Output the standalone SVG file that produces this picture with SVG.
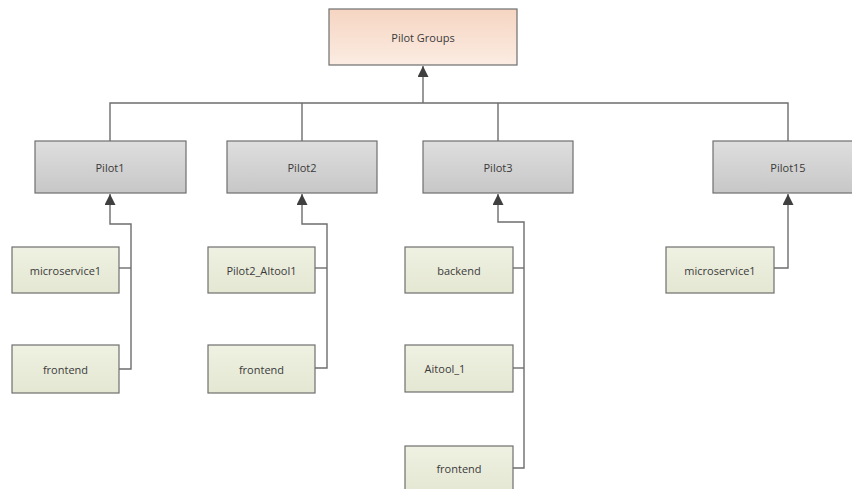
<svg xmlns="http://www.w3.org/2000/svg" width="852" height="489" viewBox="0 0 852 489">
<style>
.box{stroke:#6f6f6f;stroke-width:1.2}
.root{fill:url(#gPeach)}
.pilot{fill:url(#gGray)}
.leaf{fill:url(#gGreen)}
.lbl{font-family:"Open Sans","Noto Sans",sans-serif;font-size:11px;fill:#3a3a3a;text-anchor:middle;dominant-baseline:central}
.conn{fill:none;stroke:#6d6d6d;stroke-width:1.4}
</style>
<defs>
<linearGradient id="gPeach" x1="0" y1="0" x2="0" y2="1"><stop offset="0" stop-color="#f6d5c2"/><stop offset="1" stop-color="#fbece2"/></linearGradient>
<linearGradient id="gGray" x1="0" y1="0" x2="0" y2="1"><stop offset="0" stop-color="#dedede"/><stop offset="1" stop-color="#c7c7c7"/></linearGradient>
<linearGradient id="gGreen" x1="0" y1="0" x2="0" y2="1"><stop offset="0" stop-color="#eff1e2"/><stop offset="1" stop-color="#e4e7d2"/></linearGradient>
<marker id="arr" viewBox="0 0 10 10" refX="10" refY="5" markerWidth="11" markerHeight="11" markerUnits="userSpaceOnUse" orient="auto"><path d="M0,0 L10,5 L0,10 z" fill="#3f3f3f"/></marker>
</defs>
<rect width="852" height="489" fill="#ffffff"/>
<g id="connectors">
<path class="conn" d="M423,103 V66" marker-end="url(#arr)"/>
<path class="conn" d="M110,141 V103 H788 V141"/>
<path class="conn" d="M302,103 V141"/>
<path class="conn" d="M498,103 V141"/>
<path class="conn" d="M119,369 H131 V224 H110 V194" marker-end="url(#arr)"/>
<path class="conn" d="M119,268 H131"/>
<path class="conn" d="M315,368 H327 V224 H302 V194" marker-end="url(#arr)"/>
<path class="conn" d="M315,268 H327"/>
<path class="conn" d="M513,468 H524 V222 H498 V194" marker-end="url(#arr)"/>
<path class="conn" d="M513,268 H524"/>
<path class="conn" d="M513,368 H524"/>
<path class="conn" d="M774,268 H788 V194" marker-end="url(#arr)"/>
</g>
<g id="pilot-groups"><rect class="box root" x="329" y="9" width="188" height="56"/><text class="lbl" x="423" y="37">Pilot Groups</text></g>
<g id="pilot1"><rect class="box pilot" x="35" y="141" width="151" height="52"/><text class="lbl" x="110" y="167">Pilot1</text></g>
<g id="pilot2"><rect class="box pilot" x="227" y="141" width="150" height="52"/><text class="lbl" x="302" y="167">Pilot2</text></g>
<g id="pilot3"><rect class="box pilot" x="423" y="141" width="150" height="52"/><text class="lbl" x="498" y="167">Pilot3</text></g>
<g id="pilot15"><rect class="box pilot" x="713" y="141" width="150" height="52"/><text class="lbl" x="788" y="167">Pilot15</text></g>
<g id="p1-microservice1"><rect class="box leaf" x="12" y="247" width="107" height="46"/><text class="lbl" x="65.5" y="270">microservice1</text></g>
<g id="p1-frontend"><rect class="box leaf" x="12" y="345" width="107" height="48"/><text class="lbl" x="65.5" y="369">frontend</text></g>
<g id="p2-aitool1"><rect class="box leaf" x="208" y="247" width="107" height="46"/><text class="lbl" x="261.5" y="270">Pilot2_AItool1</text></g>
<g id="p2-frontend"><rect class="box leaf" x="208" y="345" width="107" height="48"/><text class="lbl" x="261.5" y="369">frontend</text></g>
<g id="p3-backend"><rect class="box leaf" x="405" y="247" width="108" height="46"/><text class="lbl" x="459" y="270">backend</text></g>
<g id="p3-aitool1"><rect class="box leaf" x="405" y="345" width="108" height="47"/><text class="lbl" x="445" y="368">Aitool_1</text></g>
<g id="p3-frontend"><rect class="box leaf" x="405" y="446" width="108" height="47"/><text class="lbl" x="459" y="468">frontend</text></g>
<g id="p15-microservice1"><rect class="box leaf" x="666" y="247" width="108" height="46"/><text class="lbl" x="720" y="270">microservice1</text></g>
</svg>
